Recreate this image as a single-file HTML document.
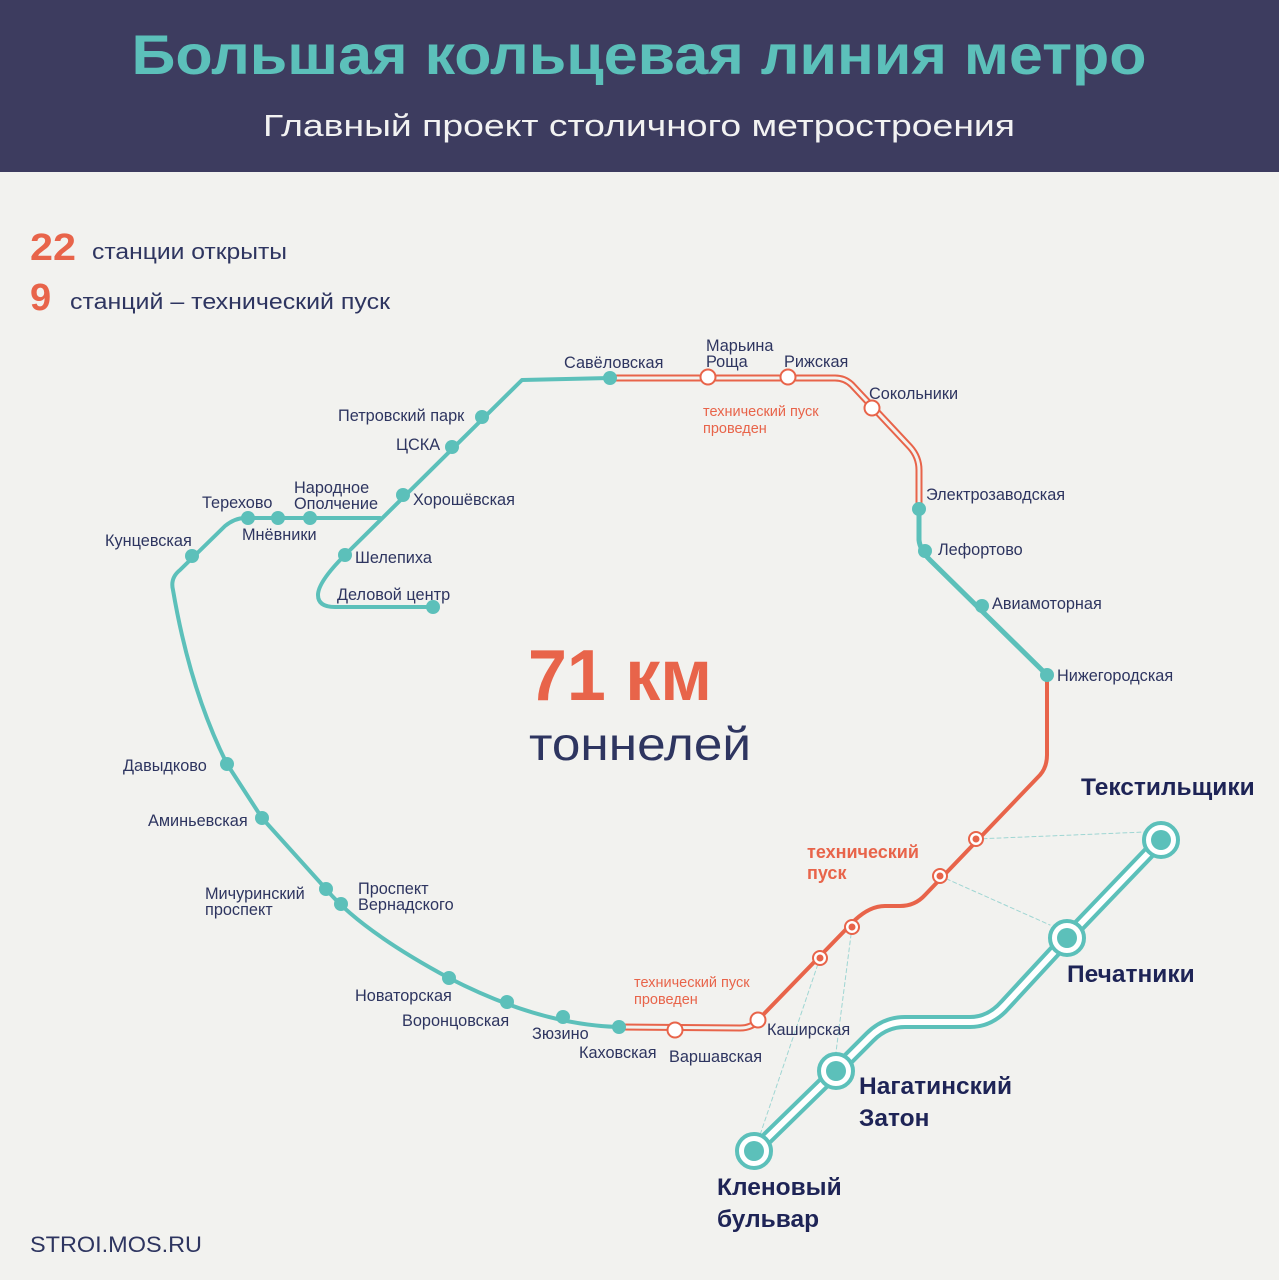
<!DOCTYPE html>
<html><head><meta charset="utf-8"><style>
html,body{margin:0;padding:0}
body{width:1279px;height:1280px;background:#f2f2ef;overflow:hidden;font-family:"Liberation Sans","Noto Sans CJK SC",sans-serif}
svg{display:block}
</style></head><body>
<svg width="1279" height="1280" viewBox="0 0 1279 1280" xmlns="http://www.w3.org/2000/svg" font-family="Liberation Sans, Noto Sans CJK SC, sans-serif">
<rect x="0" y="0" width="1279" height="172" fill="#3d3c5f"/>
<text x="639" y="74" text-anchor="middle" font-size="56" font-weight="bold" fill="#5cc0ba" textLength="1015" lengthAdjust="spacingAndGlyphs">Большая кольцевая линия метро</text>
<text x="639" y="136" text-anchor="middle" font-size="31" fill="#f2f2f2" textLength="752" lengthAdjust="spacingAndGlyphs">Главный проект столичного метростроения</text>

<text x="30" y="260" font-size="38" font-weight="bold" fill="#e8644a" textLength="46" lengthAdjust="spacingAndGlyphs">22</text>
<text x="92" y="259" font-size="22" fill="#2e3560" textLength="195" lengthAdjust="spacingAndGlyphs">станции открыты</text>
<text x="30" y="310" font-size="38" font-weight="bold" fill="#e8644a">9</text>
<text x="70" y="309" font-size="22" fill="#2e3560" textLength="320" lengthAdjust="spacingAndGlyphs">станций – технический пуск</text>

<g fill="none" stroke-linejoin="round" stroke-linecap="round">
<path d="M610,378 L522,380 L345,555 Q318,582 318,595 Q318,607 335,607 L433,607" stroke="#5cc0ba" stroke-width="4"/>
<path d="M380,518 L245,518 Q235,518 225,526 L180,570 Q170,578 173,590 Q190,690 227,764 L262,818 L326,889 Q360,930 449,978 Q540,1025 619,1027" stroke="#5cc0ba" stroke-width="4"/>
<path d="M919,509 L919,540 Q920,550 930,560 L1047,675" stroke="#5cc0ba" stroke-width="5"/>
<path d="M610,378 L835,378 Q845,378 852,385 L910,447 Q919,457 919,470 L919,509" stroke="#e8644a" stroke-width="7"/>
<path d="M610,378 L835,378 Q845,378 852,385 L910,447 Q919,457 919,470 L919,509" stroke="#f2f2ef" stroke-width="3"/>
<path d="M619,1027 L740,1028 Q752,1028 758,1020" stroke="#e8644a" stroke-width="7"/>
<path d="M619,1027 L740,1028 Q752,1028 758,1020" stroke="#f2f2ef" stroke-width="3"/>
<path d="M758,1020 L855,920 Q870,906 885,906 L900,906 Q915,906 925,895 L1040,775 Q1047,767 1047,755 L1047,675" stroke="#e8644a" stroke-width="4"/>
<g stroke="#9fd6d3" stroke-width="1" stroke-dasharray="4,3">
<path d="M976,839 L1145,832"/><path d="M940,876 L1050,925"/><path d="M852,927 L836,1052"/><path d="M820,958 L760,1135"/>
</g>
<path d="M754,1151 L836,1071 L870,1037 Q885,1022 905,1022 L970,1022 Q990,1022 1005,1005 L1067,938 L1161,840" stroke="#5cc0ba" stroke-width="14"/>
<path d="M754,1151 L836,1071 L870,1037 Q885,1022 905,1022 L970,1022 Q990,1022 1005,1005 L1067,938 L1161,840" stroke="#fff" stroke-width="6"/>
</g>
<g fill="#fff" stroke="#5cc0ba" stroke-width="4">
<circle cx="754" cy="1151" r="17"/><circle cx="836" cy="1071" r="17"/><circle cx="1067" cy="938" r="17"/><circle cx="1161" cy="840" r="17"/>
</g>
<g fill="#5cc0ba">
<circle cx="754" cy="1151" r="10"/><circle cx="836" cy="1071" r="10"/><circle cx="1067" cy="938" r="10"/><circle cx="1161" cy="840" r="10"/>
</g>
<g fill="#5cc0ba">
<circle cx="610" cy="378" r="7"/><circle cx="482" cy="417" r="7"/><circle cx="452" cy="447" r="7"/><circle cx="403" cy="495" r="7"/>
<circle cx="345" cy="555" r="7"/><circle cx="433" cy="607" r="7"/><circle cx="248" cy="518" r="7"/><circle cx="278" cy="518" r="7"/><circle cx="310" cy="518" r="7"/>
<circle cx="192" cy="556" r="7"/><circle cx="227" cy="764" r="7"/><circle cx="262" cy="818" r="7"/><circle cx="326" cy="889" r="7"/><circle cx="341" cy="904" r="7"/>
<circle cx="449" cy="978" r="7"/><circle cx="507" cy="1002" r="7"/><circle cx="563" cy="1017" r="7"/><circle cx="619" cy="1027" r="7"/>
<circle cx="919" cy="509" r="7"/><circle cx="925" cy="551" r="7"/><circle cx="982" cy="606" r="7"/><circle cx="1047" cy="675" r="7"/>
</g>
<g fill="#fff" stroke="#e8644a" stroke-width="2">
<circle cx="708" cy="377" r="7.5"/><circle cx="788" cy="377" r="7.5"/><circle cx="872" cy="408" r="7.5"/><circle cx="675" cy="1030" r="7.5"/><circle cx="758" cy="1020" r="7.5"/>
<circle cx="820" cy="958" r="7"/><circle cx="852" cy="927" r="7"/><circle cx="940" cy="876" r="7"/><circle cx="976" cy="839" r="7"/>
</g>
<g fill="#e8644a">
<circle cx="820" cy="958" r="3.5"/><circle cx="852" cy="927" r="3.5"/><circle cx="940" cy="876" r="3.5"/><circle cx="976" cy="839" r="3.5"/>
</g>

<g font-size="16.3" fill="#2e3560">
<text x="564" y="368">Савёловская</text>
<text x="706" y="351">Марьина</text><text x="706" y="367">Роща</text>
<text x="784" y="367">Рижская</text>
<text x="869" y="399">Сокольники</text>
<text x="926" y="500">Электрозаводская</text>
<text x="938" y="555">Лефортово</text>
<text x="992" y="609">Авиамоторная</text>
<text x="1057" y="681">Нижегородская</text>
<text x="338" y="421">Петровский парк</text>
<text x="396" y="450">ЦСКА</text>
<text x="413" y="505">Хорошёвская</text>
<text x="294" y="493">Народное</text><text x="294" y="509">Ополчение</text>
<text x="202" y="508">Терехово</text>
<text x="242" y="540">Мнёвники</text>
<text x="105" y="546">Кунцевская</text>
<text x="355" y="563">Шелепиха</text>
<text x="337" y="600">Деловой центр</text>
<text x="123" y="771">Давыдково</text>
<text x="148" y="826">Аминьевская</text>
<text x="205" y="899">Мичуринский</text><text x="205" y="915">проспект</text>
<text x="358" y="894">Проспект</text><text x="358" y="910">Вернадского</text>
<text x="355" y="1001">Новаторская</text>
<text x="402" y="1026">Воронцовская</text>
<text x="532" y="1039">Зюзино</text>
<text x="579" y="1058">Каховская</text>
<text x="669" y="1062">Варшавская</text>
<text x="767" y="1035">Каширская</text>
</g>
<g font-size="14.5" fill="#e8644a">
<text x="703" y="416">технический пуск</text><text x="703" y="433">проведен</text>
<text x="634" y="987">технический пуск</text><text x="634" y="1004">проведен</text>
</g>
<text x="807" y="858" font-size="18" font-weight="bold" fill="#e8644a">технический</text>
<text x="807" y="879" font-size="18" font-weight="bold" fill="#e8644a">пуск</text>

<g font-size="24.5" font-weight="bold" fill="#1e2456">
<text x="1081" y="795">Текстильщики</text>
<text x="1067" y="982">Печатники</text>
<text x="859" y="1094">Нагатинский</text><text x="859" y="1126">Затон</text>
<text x="717" y="1195">Кленовый</text><text x="717" y="1227">бульвар</text>
</g>

<text x="528" y="700" font-size="72" font-weight="bold" fill="#e8644a" textLength="184" lengthAdjust="spacingAndGlyphs">71 км</text>
<text x="529" y="760" font-size="46" fill="#2e3560" textLength="222" lengthAdjust="spacingAndGlyphs">тоннелей</text>

<text x="30" y="1252" font-size="22" fill="#2e3560" textLength="172" lengthAdjust="spacingAndGlyphs">STROI.MOS.RU</text>
</svg>
</body></html>
